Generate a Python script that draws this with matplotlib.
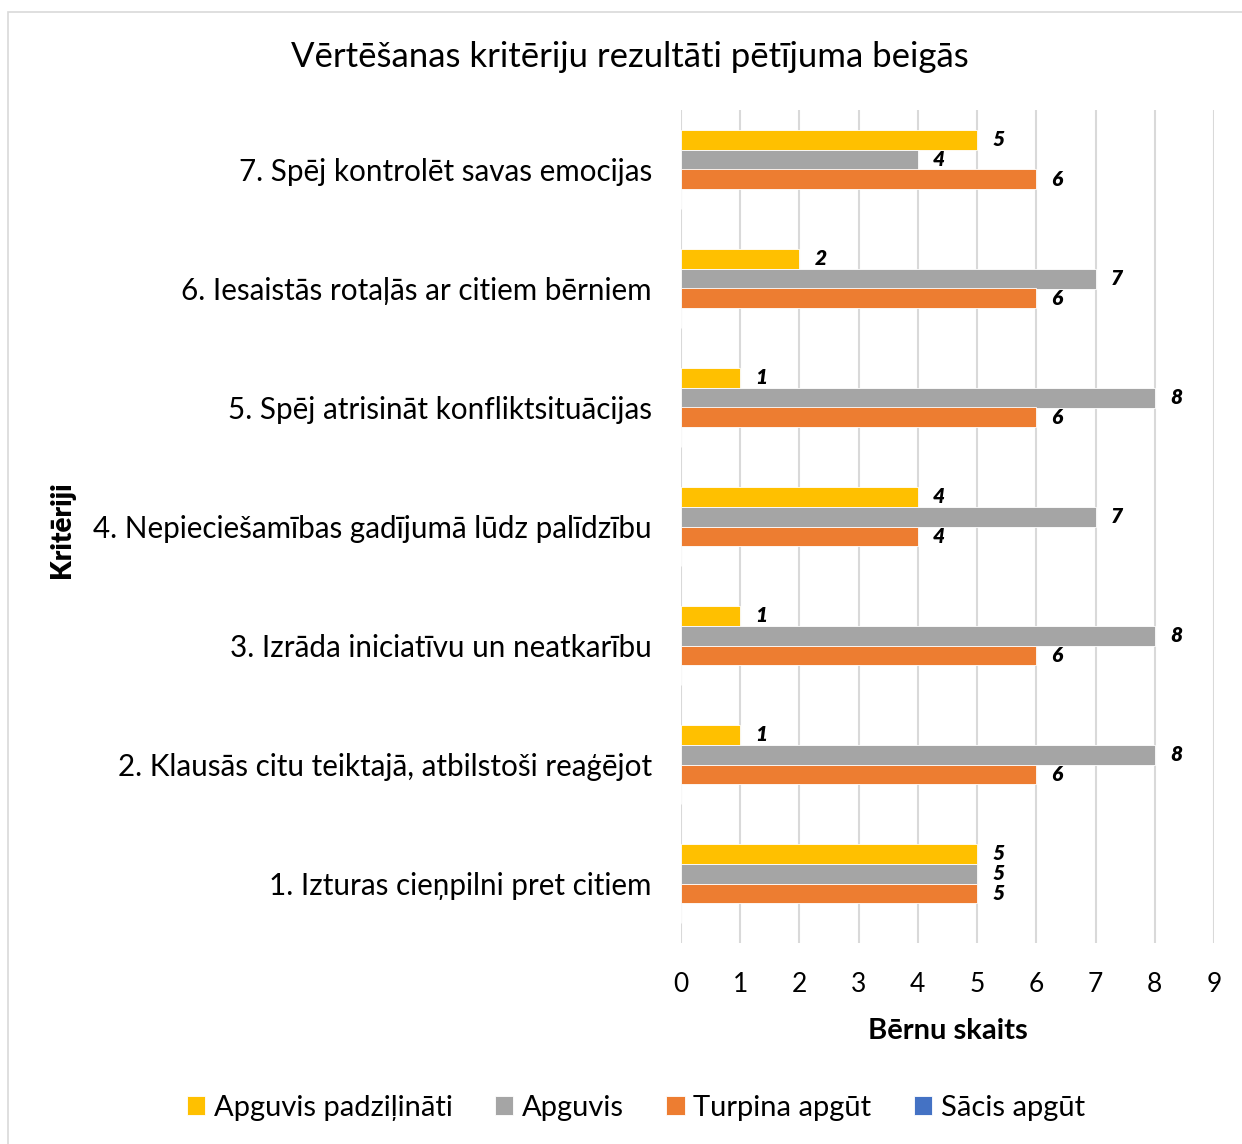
"""
Recreate bar chart: Vērtēšanas kritēriju rezultāti pētījuma beigās.
"""
import matplotlib
matplotlib.use("Agg")
import matplotlib.pyplot as plt
import numpy as np

plt.rcParams["font.family"] = ["Lato", "DejaVu Sans"]

categories = [
    "1. Izturas cieņpilni pret citiem",
    "2. Klausās citu teiktajā, atbilstoši reaģējot",
    "3. Izrāda iniciatīvu un neatkarību",
    "4. Nepieciešamības gadījumā lūdz palīdzību",
    "5. Spēj atrisināt konfliktsituācijas",
    "6. Iesaistās rotaļās ar citiem bērniem",
    "7. Spēj kontrolēt savas emocijas",
]
series_names = ["Apguvis padziļināti", "Apguvis", "Turpina apgūt", "Sācis apgūt"]
apguvis_padzilinati = [5, 1, 1, 4, 1, 2, 5]
apguvis = [5, 8, 8, 7, 8, 7, 4]
turpina_apgut = [5, 6, 6, 4, 6, 6, 6]
sacis_apgut = [0, 0, 0, 0, 0, 0, 0]
x_ticks = list(range(0, 10))

colors = ["#FFC000", "#A5A5A5", "#ED7D31", "#4472C4"]
values = [apguvis_padzilinati, apguvis, turpina_apgut, sacis_apgut]

fig = plt.figure(figsize=(12.42, 11.44), dpi=100)
ax = fig.add_axes([681 / 1242, 1 - 943 / 1144, 533 / 1242, 833 / 1144])

# chart border
fig.patches.append(plt.Rectangle((8 / 1242, -0.05), 1.1, 1 - 12 / 1144 + 0.05,
                                 transform=fig.transFigure, fill=False,
                                 edgecolor="#D9D9D9", linewidth=1.2))

y = np.arange(len(categories))
h = 0.168
offsets = [1.5 * h, 0.5 * h, -0.5 * h, -1.5 * h]

for name, vals, col, off in zip(series_names, values, colors, offsets):
    ax.barh(y + off, vals, height=h, color=col, label=name,
            edgecolor="white", linewidth=0.6, zorder=3)
    if name == "Sācis apgūt":
        continue
    for yy, v in zip(y + off, vals):
        ax.annotate(str(v), xy=(v, yy), xytext=(11, 0), textcoords="offset points",
                    ha="left", va="center", fontsize=15, fontweight="heavy",
                    fontstyle="italic")

ax.set_xlim(0, 9)
ax.set_ylim(-0.5, len(categories) - 0.5)
ax.set_xticks(x_ticks)
ax.set_xticklabels([str(t) for t in x_ticks], fontsize=19)
ax.set_yticks(y)
ax.set_yticklabels(categories, fontsize=21.3)
ax.tick_params(axis="both", length=0)
ax.tick_params(axis="x", pad=21)
ax.tick_params(axis="y", pad=21)
ax.grid(axis="x", color="#D9D9D9", linewidth=1.5, zorder=0)
ax.set_axisbelow(True)
for s in ax.spines.values():
    s.set_visible(False)

ax.set_xlabel("Bērnu skaits", fontsize=21, fontweight="bold", labelpad=15)
fig.text(62 / 1242, 1 - 530 / 1144, "Kritēriji", rotation=90, fontsize=20,
         fontweight="heavy", ha="center", va="center")

fig.text(630 / 1242, 1 - 57 / 1144, "Vērtēšanas kritēriju rezultāti pētījuma beigās",
         fontsize=25, ha="center", va="center")

fig.legend(loc="center", bbox_to_anchor=(636 / 1242, 1 - 1108 / 1144), ncol=4,
           frameon=False, fontsize=21, handlelength=0.62, handleheight=0.62,
           columnspacing=1.45, handletextpad=0.3)

fig.savefig("out.png", dpi=100)
